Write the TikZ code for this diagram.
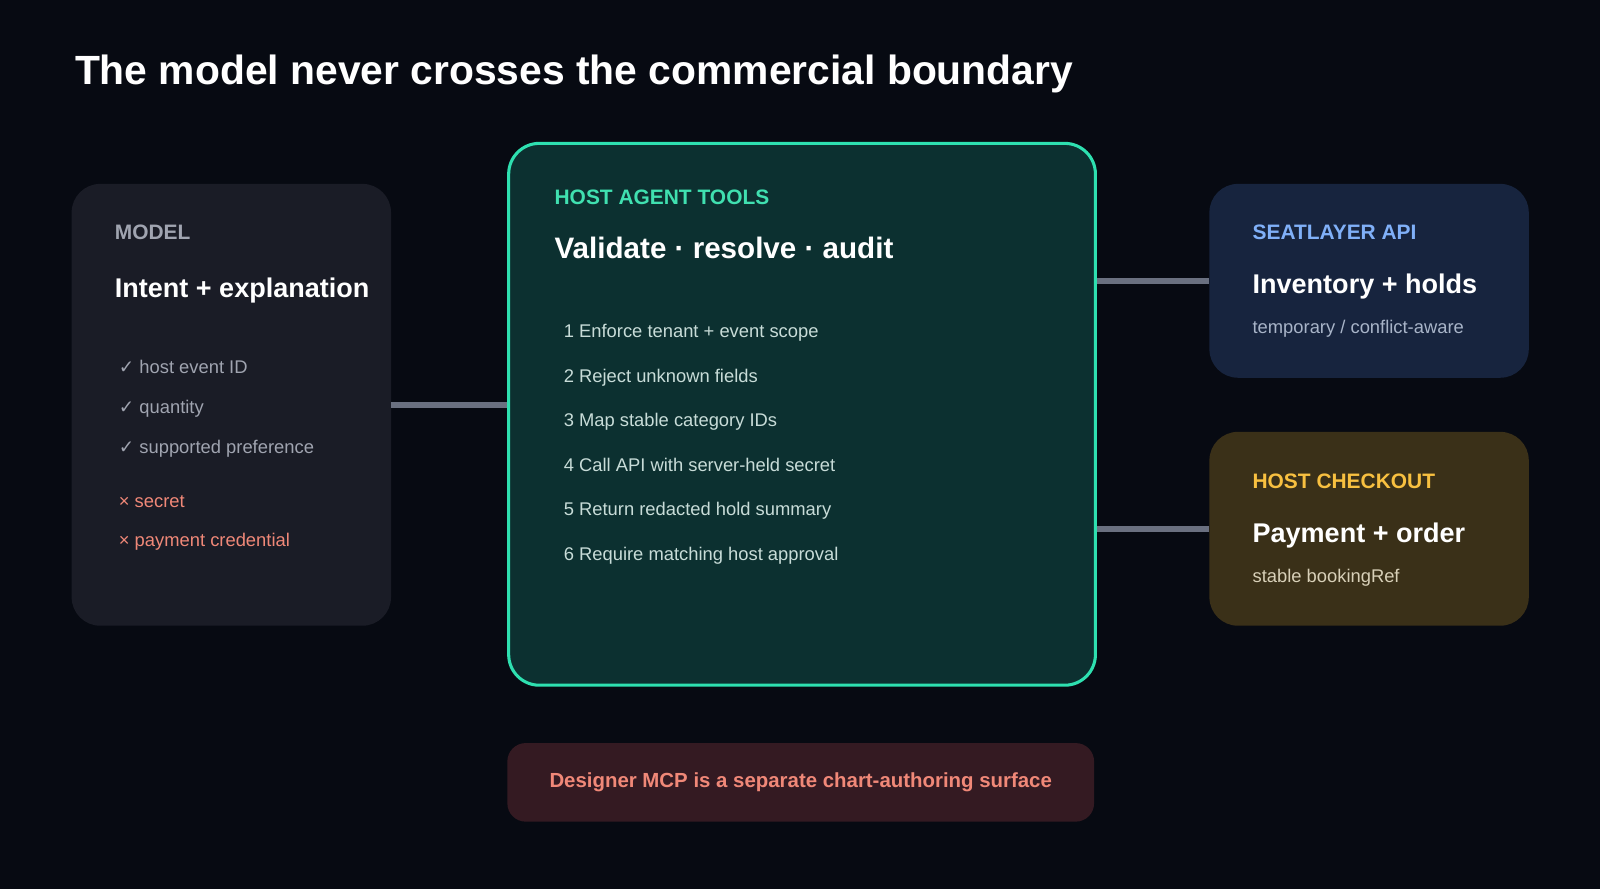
\documentclass[tikz,border=0pt]{standalone}
\usepackage{fontspec}
\setmainfont{Liberation Sans}
\newfontfamily\symfont{DejaVu Sans}
\usetikzlibrary{positioning}
\definecolor{bgdark}{HTML}{070A12}
\definecolor{modelfill}{HTML}{1A1C26}
\definecolor{toolfill}{HTML}{0C3030}
\definecolor{toolline}{HTML}{2EE0B0}
\definecolor{apifill}{HTML}{17243E}
\definecolor{checkfill}{HTML}{3A3018}
\definecolor{notefill}{HTML}{341A22}
\definecolor{linkgray}{HTML}{6A7080}
\definecolor{mutedgray}{HTML}{A0A4B0}
\definecolor{salmon}{HTML}{F08878}
\definecolor{teal}{HTML}{40E0B0}
\definecolor{listtext}{HTML}{C8DCD8}
\definecolor{apiblue}{HTML}{80B0F8}
\definecolor{apisub}{HTML}{A8B4C8}
\definecolor{gold}{HTML}{F8C040}
\definecolor{checksub}{HTML}{D8D0B8}
\tikzset{
  panel/.style={draw=none, rounded corners=28pt, anchor=north west, inner sep=0pt},
  kicker/.style={anchor=base west, font=\fontsize{20.5}{24}\selectfont\bfseries},
  heading/.style={anchor=base west, text=white, font=\fontsize{26.5}{32}\selectfont\bfseries},
  item/.style={anchor=base west, font=\fontsize{18}{22}\selectfont},
  link/.style={linkgray, line width=6pt}
}
\begin{document}
\begin{tikzpicture}[x=1pt, y=-1pt]
  \fill[bgdark] (0,0) rectangle (1568,871);
  \useasboundingbox (0,0) rectangle (1568,871);
  \node[anchor=base west, text=white, font=\fontsize{40}{46}\selectfont\bfseries] (title) at (70,83) {The model never crosses the commercial boundary};

  % model panel
  \node[panel, fill=modelfill, minimum width=313pt, minimum height=433pt] (model) at (70,180) {};
  \node[kicker, text=mutedgray] (modelk) at (109,235) {MODEL};
  \node[heading] (modelh) at (109,292) {Intent + explanation};
  \foreach \y/\t in {366/host event ID, 405/quantity, 444/supported preference}
    \node[item, text=mutedgray] at (113,\y) {{\symfont ✓} \t};
  \foreach \y/\t in {497/secret, 536/payment credential}
    \node[item, text=salmon] at (113,\y) {× \t};

  % host agent tools
  \node[panel, fill=toolfill, draw=toolline, line width=3pt, rounded corners=30pt, minimum width=575pt, minimum height=531pt] (tools) at (497,139) {};
  \node[kicker, text=teal] (toolsk) at (540,200) {HOST AGENT TOOLS};
  \node[heading, font=\fontsize{29}{34}\selectfont\bfseries] (toolsh) at (540,253) {Validate · resolve · audit};
  \foreach \n/\t [count=\i] in {1/Enforce tenant + event scope, 2/Reject unknown fields, 3/Map stable category IDs,
    4/Call API with server-held secret, 5/Return redacted hold summary, 6/Require matching host approval}
    \node[item, text=listtext] at (549,{331+43.6*(\i-1)}) {\n\ \t};

  % seatlayer api
  \node[panel, fill=apifill, minimum width=313pt, minimum height=190pt] (api) at (1185,180) {};
  \node[kicker, text=apiblue] (apik) at (1224,235) {SEATLAYER API};
  \node[heading] (apih) at (1224,288) {Inventory + holds};
  \node[item, text=apisub] (apis) at (1224,327) {temporary / conflict-aware};

  % host checkout
  \node[panel, fill=checkfill, minimum width=313pt, minimum height=190pt] (checkout) at (1185,423) {};
  \node[kicker, text=gold] (checkk) at (1224,479) {HOST CHECKOUT};
  \node[heading] (checkh) at (1224,532) {Payment + order};
  \node[item, text=checksub] (checks) at (1224,571) {stable bookingRef};

  % note
  \node[panel, fill=notefill, rounded corners=18pt, minimum width=575pt, minimum height=77pt] (note) at (497,728) {};
  \node[text=salmon, font=\fontsize{20}{24}\selectfont\bfseries] at (note.center) {Designer MCP is a separate chart-authoring surface};

  % links
  \draw[link] (model.east) -- (model.east -| tools.west);
  \draw[link] (api.west -| tools.east) -- (api.west);
  \draw[link] (checkout.west -| tools.east) -- (checkout.west);
\end{tikzpicture}
\end{document}
